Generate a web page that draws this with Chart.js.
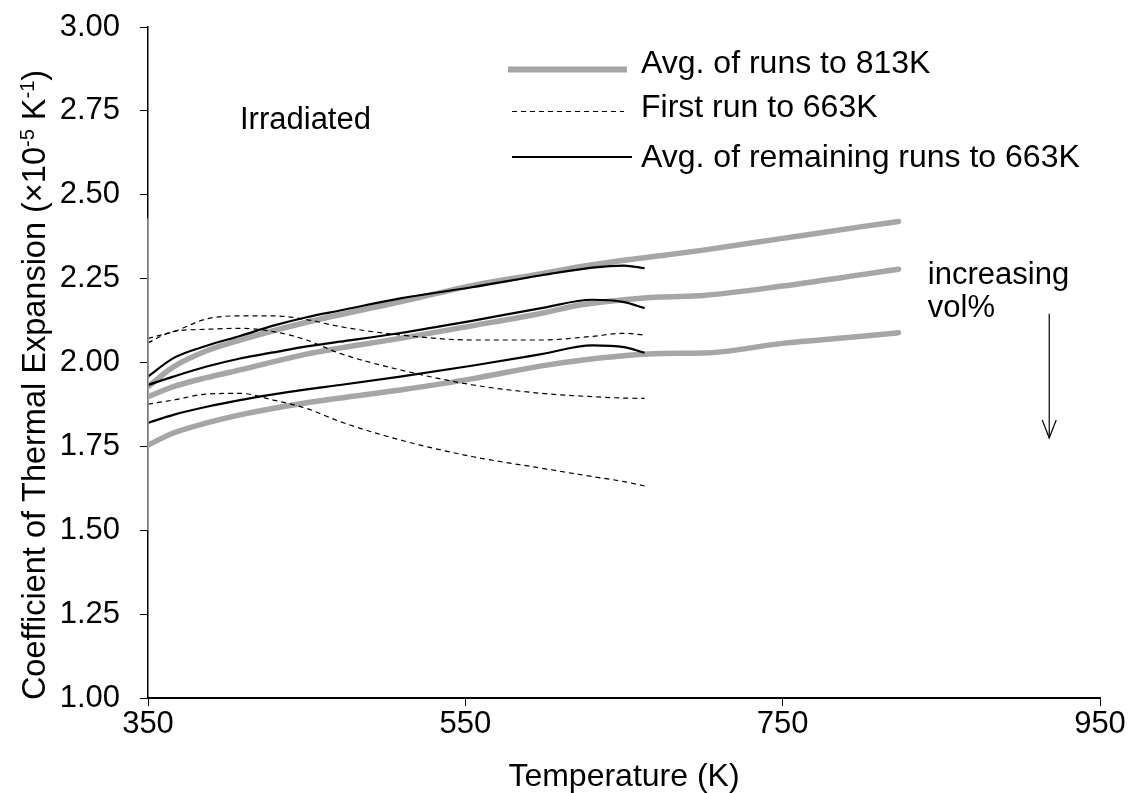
<!DOCTYPE html>
<html>
<head>
<meta charset="utf-8">
<script src="https://cdn.jsdelivr.net/npm/chart.js@4.4.0/dist/chart.umd.min.js"></script>
<style>
  html, body { margin: 0; padding: 0; background: #fff; }
</style>
</head>
<body>
<canvas id="cteChart" width="1128" height="793"></canvas>
<script>
// Temperaturas (K)
const tempShort = [350, 366, 387, 408, 429, 450, 471, 509, 555, 598, 630, 650, 663];
const tempLong = [350, 366, 387, 408, 450, 509, 555, 598, 623, 650, 673, 700, 750, 800, 823];

// Promedio de corridas hasta 813K (gris grueso)
const avg813A = [1.928, 1.987, 2.035, 2.067, 2.120, 2.181, 2.230, 2.265, 2.286, 2.305, 2.318, 2.335, 2.370, 2.405, 2.420];
const avg813B = [1.898, 1.928, 1.955, 1.978, 2.025, 2.072, 2.110, 2.147, 2.172, 2.187, 2.195, 2.200, 2.228, 2.262, 2.278];
const avg813C = [1.754, 1.790, 1.820, 1.844, 1.880, 1.918, 1.952, 1.990, 2.007, 2.020, 2.027, 2.028, 2.057, 2.078, 2.089];

// Primera corrida hasta 663K (discontinua)
const first663A = [2.059, 2.092, 2.099, 2.102, 2.092, 2.067, 2.027, 1.978, 1.933, 1.908, 1.898, 1.894, 1.893];
const first663B = [2.072, 2.092, 2.130, 2.139, 2.139, 2.128, 2.107, 2.082, 2.067, 2.067, 2.078, 2.087, 2.082];
const first663C = [1.876, 1.888, 1.906, 1.908, 1.888, 1.863, 1.824, 1.769, 1.719, 1.685, 1.660, 1.645, 1.632];

// Promedio de las corridas restantes hasta 663K (negro)
const rest663A = [1.958, 2.013, 2.050, 2.079, 2.110, 2.135, 2.155, 2.191, 2.225, 2.260, 2.283, 2.289, 2.281];
const rest663B = [1.933, 1.958, 1.988, 2.012, 2.030, 2.048, 2.062, 2.088, 2.125, 2.162, 2.187, 2.180, 2.162];
const rest663C = [1.820, 1.844, 1.868, 1.888, 1.905, 1.920, 1.933, 1.958, 1.991, 2.025, 2.051, 2.046, 2.029];

// Etiquetas de la leyenda
const legendLabels = ['Avg. of runs to 813K', 'First run to 663K', 'Avg. of remaining runs to 663K'];

const FONT = "'Liberation Sans', Arial, sans-serif";
const GRAY = '#a6a6a6';

function pts(xs, ys) {
  return xs.map((x, i) => ({ x: x, y: ys[i] }));
}

function grayLine(vals) {
  return { data: pts(tempLong, vals), borderColor: GRAY, borderWidth: 5.5, pointRadius: 0,
           tension: 0.4, cubicInterpolationMode: 'monotone', order: 3, borderCapStyle: 'round' };
}
function dashLine(vals) {
  return { data: pts(tempShort, vals), borderColor: '#000', borderWidth: 1.2, borderDash: [5, 4],
           pointRadius: 0, tension: 0.4, cubicInterpolationMode: 'monotone', order: 2 };
}
function blackLine(vals) {
  return { data: pts(tempShort, vals), borderColor: '#000', borderWidth: 2.2, pointRadius: 0,
           tension: 0.4, cubicInterpolationMode: 'monotone', order: 1 };
}

// Leyenda, anotaciones y título del eje Y dibujados a mano
const extras = {
  id: 'extras',
  afterDraw(chart) {
    const ctx = chart.ctx;
    const xs = chart.scales.x, ys = chart.scales.y;
    ctx.save();
    ctx.fillStyle = '#000';
    ctx.textBaseline = 'alphabetic';
    ctx.textAlign = 'left';

    // tramo gris sobre el eje Y (como en el original)
    ctx.strokeStyle = GRAY; ctx.lineWidth = 1.5;
    ctx.beginPath(); ctx.moveTo(148, ys.getPixelForValue(2.43)); ctx.lineTo(148, ys.getPixelForValue(1.5)); ctx.stroke();

    // leyenda
    ctx.strokeStyle = GRAY; ctx.lineWidth = 6;
    ctx.beginPath(); ctx.moveTo(508, 69.5); ctx.lineTo(627, 69.5); ctx.stroke();
    ctx.strokeStyle = '#000'; ctx.lineWidth = 1; ctx.setLineDash([5, 4]);
    ctx.beginPath(); ctx.moveTo(512, 111.5); ctx.lineTo(624, 111.5); ctx.stroke();
    ctx.setLineDash([]); ctx.lineWidth = 2;
    ctx.beginPath(); ctx.moveTo(512, 157); ctx.lineTo(632, 157); ctx.stroke();
    ctx.font = '32px ' + FONT;
    ctx.fillText(legendLabels[0], 641, 73);
    ctx.fillText(legendLabels[1], 641, 117);
    ctx.fillText(legendLabels[2], 641, 167);

    // anotaciones
    ctx.font = '31px ' + FONT;
    ctx.fillText('Irradiated', 240, 129);
    ctx.fillText('increasing', xs.getPixelForValue(841.5), 284);
    ctx.fillText('vol%', xs.getPixelForValue(841.5), 317);

    // flecha
    const ax = xs.getPixelForValue(918);
    const ay1 = ys.getPixelForValue(2.145), ay2 = ys.getPixelForValue(1.775);
    ctx.lineWidth = 1.2;
    ctx.beginPath(); ctx.moveTo(ax, ay1); ctx.lineTo(ax, ay2); ctx.stroke();
    ctx.beginPath(); ctx.moveTo(ax - 7, ay2 - 18); ctx.lineTo(ax, ay2); ctx.lineTo(ax + 7, ay2 - 18); ctx.stroke();

    // título del eje Y con superíndices
    ctx.translate(45, 385);
    ctx.rotate(-Math.PI / 2);
    const parts = [['Coefficient of Thermal Expansion (\u00d710', false], ['-5', true], [' K', false], ['-1', true], [')', false]];
    const big = '32.5px ' + FONT, small = '20px ' + FONT;
    let total = 0;
    parts.forEach(p => { ctx.font = p[1] ? small : big; total += ctx.measureText(p[0]).width; });
    let cx = -total / 2;
    parts.forEach(p => {
      ctx.font = p[1] ? small : big;
      ctx.fillText(p[0], cx, p[1] ? -11 : 0);
      cx += ctx.measureText(p[0]).width;
    });
    ctx.restore();
  }
};

const ctx = document.getElementById('cteChart').getContext('2d');
new Chart(ctx, {
  type: 'line',
  data: {
    datasets: [
      grayLine(avg813A), grayLine(avg813B), grayLine(avg813C),
      dashLine(first663A), dashLine(first663B), dashLine(first663C),
      blackLine(rest663A), blackLine(rest663B), blackLine(rest663C)
    ]
  },
  options: {
    responsive: false,
    animation: false,
    layout: { padding: { top: 27, right: 28, left: 0, bottom: 0 } },
    plugins: { legend: { display: false }, tooltip: { enabled: false } },
    scales: {
      x: {
        type: 'linear', min: 350, max: 950,
        ticks: { stepSize: 200, color: '#000', font: { size: 31, family: FONT }, padding: 0, maxRotation: 0 },
        grid: { drawOnChartArea: false, tickLength: 8, color: '#000', tickColor: '#000' },
        border: { color: '#000', width: 2 },
        title: { display: true, text: 'Temperature (K)', color: '#000', font: { size: 32, family: FONT }, padding: { top: 4, bottom: -3 } },
        afterFit(s) { s.height = 95; s.paddingLeft = 0; s.paddingRight = 0; }
      },
      y: {
        min: 1, max: 3,
        ticks: { stepSize: 0.25, color: '#000', font: { size: 31, family: FONT }, padding: 20,
                 callback: v => v.toFixed(2) },
        grid: { drawOnChartArea: false, tickLength: 8, color: '#000', tickColor: '#000' },
        border: { color: '#000', width: 1.5 },
        afterFit(s) { s.width = 148; s.paddingTop = 0; s.paddingBottom = 0; }
      }
    }
  },
  plugins: [extras]
});
</script>
</body>
</html>
